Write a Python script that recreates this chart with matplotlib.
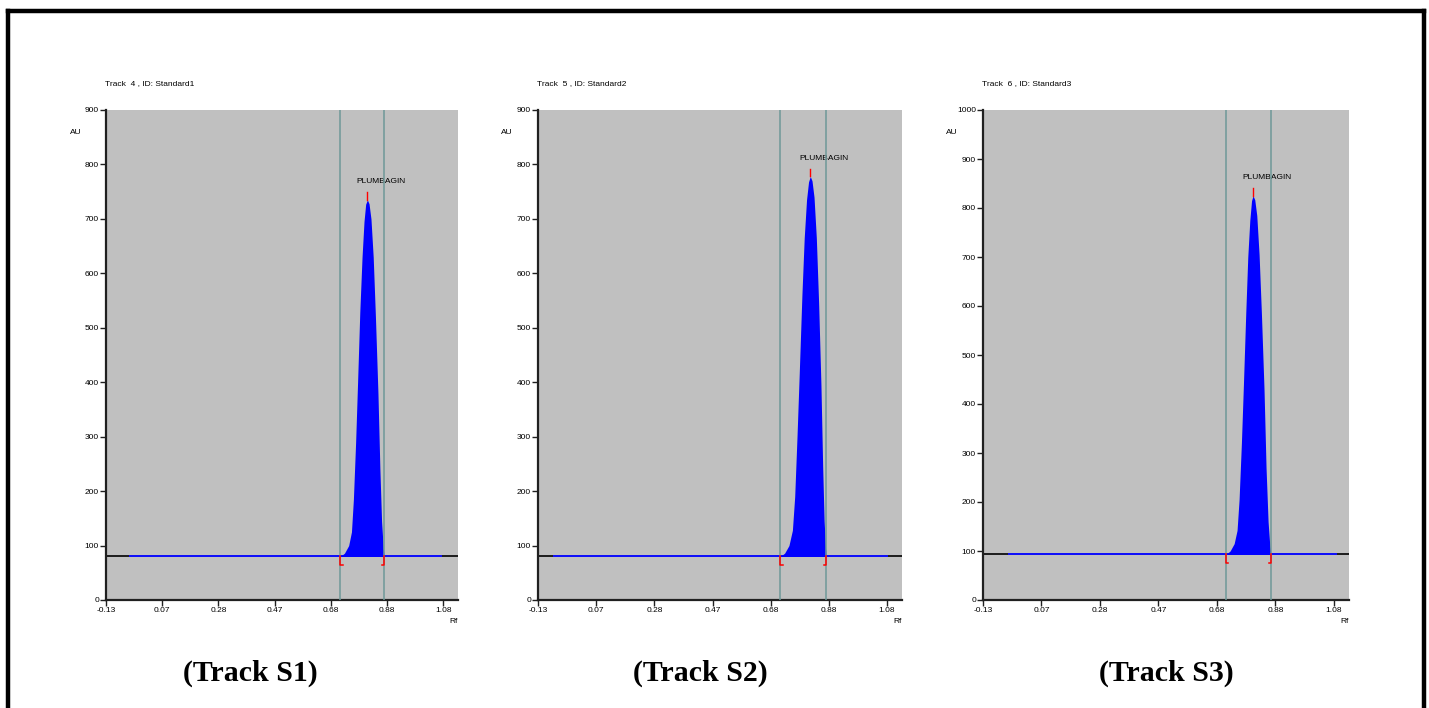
import matplotlib
matplotlib.use("Agg")
import matplotlib.pyplot as plt
from matplotlib.lines import Line2D

# --- data ---
titles = ["Track  4 , ID: Standard1", "Track  5 , ID: Standard2", "Track  6 , ID: Standard3"]
captions = ["(Track S1)", "(Track S2)", "(Track S3)"]
peak_name = "PLUMBAGIN"
ymax = [900, 900, 1000]
baseline = [80, 80, 93]
xtick_labels = ["-0.13", "0.07", "0.28", "0.47", "0.68", "0.88", "1.08"]
x_min, x_max = -0.13, 1.132
blue_start = [-0.044, -0.075, -0.042]
blue_end = [1.07, 1.08, 1.088]

# peak profiles (Rf, AU)
rf1 = [0.710, 0.725, 0.740, 0.750, 0.757, 0.765, 0.772, 0.780, 0.788, 0.795, 0.801,
       0.807, 0.813, 0.820, 0.828, 0.836, 0.845, 0.852, 0.858, 0.864, 0.868]
au1 = [80, 86, 100, 125, 185, 290, 400, 530, 630, 695, 727,
       735, 728, 700, 630, 520, 380, 240, 145, 95, 80]
rf2 = [0.710, 0.725, 0.740, 0.752, 0.760, 0.768, 0.776, 0.785, 0.793, 0.801, 0.808,
       0.814, 0.820, 0.827, 0.835, 0.843, 0.851, 0.857, 0.862, 0.867, 0.870]
au2 = [80, 86, 100, 128, 190, 300, 420, 560, 665, 735, 768,
       778, 770, 740, 665, 545, 395, 245, 145, 95, 80]
rf3 = [0.708, 0.722, 0.736, 0.746, 0.753, 0.761, 0.768, 0.776, 0.783, 0.790, 0.796,
       0.801, 0.807, 0.814, 0.822, 0.830, 0.839, 0.846, 0.853, 0.859, 0.863]
au3 = [93, 100, 115, 142, 205, 320, 440, 585, 700, 775, 815,
       825, 817, 785, 705, 585, 430, 270, 160, 110, 93]
rfs = [rf1, rf2, rf3]
aus = [au1, au2, au3]

small = ["Liberation Sans Narrow", "Liberation Sans", "DejaVu Sans"]
plt.rcParams["font.family"] = small

fig = plt.figure(figsize=(14.29, 7.08), dpi=100)

# outer border
W, H = 1429, 708
for xs, ys in [([8, 1424], [11, 11]), ([8, 8], [11, 720]), ([1424, 1424], [11, 720])]:
    fig.add_artist(Line2D([x / W for x in xs], [1 - y / H for y in ys], color="black", lw=3.2,
                          transform=fig.transFigure, solid_capstyle="projecting"))

# axes boxes in pixels: left, right
boxes = [(106, 458), (538, 902), (983, 1349)]
top_px, bot_px = 110, 600
cap_x = [250, 700, 1166]

for i in range(3):
    l, r = boxes[i]
    ax = fig.add_axes([l / W, 1 - bot_px / H, (r - l) / W, (bot_px - top_px) / H])
    ax.set_facecolor("#c0c0c0")
    ax.set_xlim(x_min, x_max)
    ax.set_ylim(0, ymax[i])

    rf, au = rfs[i], aus[i]
    b = baseline[i]
    ax.axhline(b, color="black", lw=1.2, zorder=2)
    ax.plot([blue_start[i], blue_end[i]], [b, b], color="#1010ff", lw=1.4, zorder=3)
    ax.fill_between(rf, b, au, color="#0000ff", lw=0, zorder=4)
    ax.axvline(rf[0], color="#6e9898", lw=1.1, zorder=5)
    ax.axvline(rf[-1], color="#6e9898", lw=1.1, zorder=5)

    # start / end brackets
    dy = ymax[i] * 0.018
    dx = 0.008
    ax.plot([rf[0], rf[0], rf[0] + dx], [b, b - dy, b - dy], color="red", lw=1.1, zorder=6)
    ax.plot([rf[-1], rf[-1], rf[-1] - dx], [b, b - dy, b - dy], color="red", lw=1.1, zorder=6)

    # apex marker and label
    k = au.index(max(au))
    ax.plot([rf[k], rf[k]], [au[k], au[k] + ymax[i] * 0.016], color="red", lw=1, zorder=6)
    ax.annotate(peak_name, (rf[k], au[k] + ymax[i] * 0.016), xytext=(-8, 5),
                textcoords="offset points", ha="left", va="bottom", fontsize=6)

    for s in ["top", "right"]:
        ax.spines[s].set_visible(False)
    for s in ["left", "bottom"]:
        ax.spines[s].set_color("#202020")
        ax.spines[s].set_linewidth(1.6)
    ax.set_xticks([x_min + j * (1.08 - x_min) / 6 for j in range(7)])
    ax.set_xticklabels(xtick_labels)
    ax.set_yticks(range(0, ymax[i] + 1, 100))
    ax.tick_params(labelsize=6, length=4, width=1, pad=1, color="#202020")

    ax.text(-0.002, 1.055, titles[i], transform=ax.transAxes, fontsize=6, ha="left", va="center")
    ax.text(-0.085, 0.955, "AU", transform=ax.transAxes, fontsize=6, ha="center", va="center")
    ax.text(1.0, -0.043, "Rf", transform=ax.transAxes, fontsize=6, ha="right", va="center")

    fig.text(cap_x[i] / W, 1 - 673 / H, captions[i], fontsize=21.5, fontweight="bold",
             family="Liberation Serif", ha="center", va="center")

fig.savefig("out.png", dpi=100)
